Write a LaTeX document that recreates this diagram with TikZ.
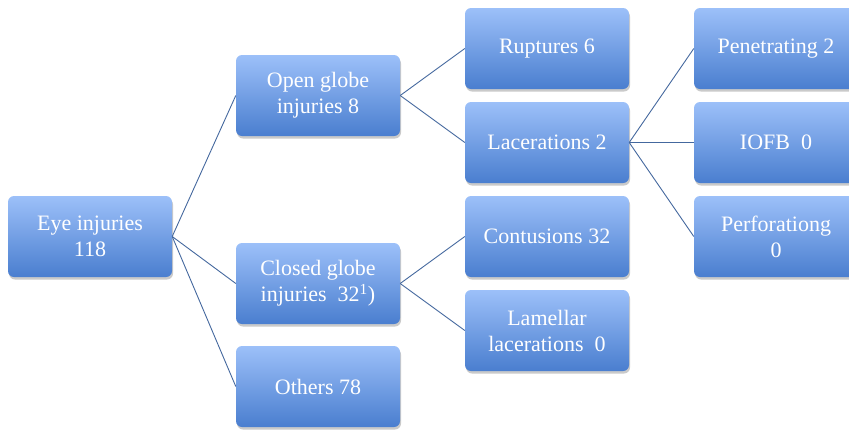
\documentclass[tikz,border=0pt]{standalone}
\usepackage{fontspec}
\setmainfont{Liberation Serif}
\usetikzlibrary{shadows}
\begin{document}
\begin{tikzpicture}[x=1pt,y=-1pt,
  box/.style={rounded corners=6pt, minimum width=164pt, minimum height=81pt,
    top color=blue1, bottom color=blue2, draw=none, text=white,
    align=center, font=\fontsize{22}{26}\selectfont, inner sep=0pt,
    drop shadow={shadow xshift=1pt, shadow yshift=-2.5pt, opacity=0.35, fill=black!60}},
  link/.style={draw=linec, line width=0.9pt}]
\definecolor{blue1}{HTML}{9CC0F9}
\definecolor{blue2}{HTML}{4A7ECF}
\definecolor{linec}{HTML}{44689E}
\useasboundingbox (0,0) rectangle (849,429);
\node[box] (eye) at (90,236.5) {Eye injuries\\118};
\node[box] (open) at (318,95.5) {Open globe\\injuries 8};
\node[box] (closed) at (318,283.5) {Closed globe\\injuries\ \ 32\textsuperscript{1})};
\node[box] (others) at (318,386.5) {Others 78};
\node[box] (rupt) at (547,48.5) {Ruptures 6};
\node[box] (lac) at (547,142.5) {Lacerations 2};
\node[box] (cont) at (547,236.5) {Contusions 32};
\node[box] (lam) at (547,330.5) {Lamellar\\lacerations\ \ 0};
\node[box] (pen) at (776,48.5) {Penetrating 2};
\node[box] (iofb) at (776,142.5) {IOFB\ \ 0};
\node[box] (perf) at (776,236.5) {Perforationg\\0};
\draw[link] (eye.east) -- (open.west);
\draw[link] (eye.east) -- (closed.west);
\draw[link] (eye.east) -- (others.west);
\draw[link] (open.east) -- (rupt.west);
\draw[link] (open.east) -- (lac.west);
\draw[link] (closed.east) -- (cont.west);
\draw[link] (closed.east) -- (lam.west);
\draw[link] (lac.east) -- (pen.west);
\draw[link] (lac.east) -- (iofb.west);
\draw[link] (lac.east) -- (perf.west);
\end{tikzpicture}
\end{document}
